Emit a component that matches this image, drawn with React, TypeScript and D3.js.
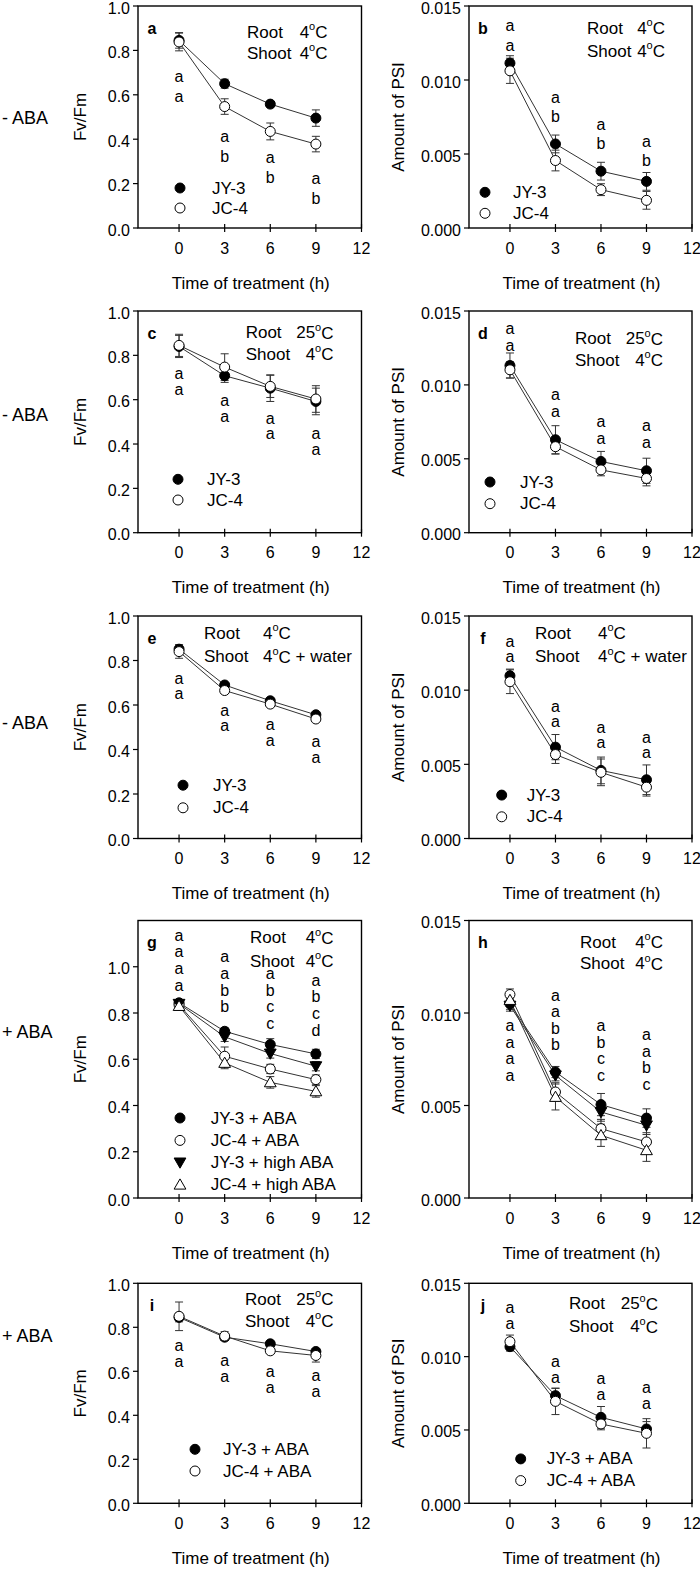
import React from 'react';
import * as d3 from 'd3';

const FONT = '"Liberation Sans", Arial, Helvetica, sans-serif';

// ---------- shared axes ----------
const times = [0, 3, 6, 9];
const xTickValues = [0, 3, 6, 9, 12];
const fvTickValues = [0, 0.2, 0.4, 0.6, 0.8, 1.0];
const psiTickValues = [0, 0.005, 0.01, 0.015];
const rowTreatments = ['- ABA', '- ABA', '- ABA', '+ ABA', '+ ABA'];

// ---------- panel a ----------
const aJY3 = [0.845, 0.65, 0.558, 0.495];
const aJY3Err = [0.035, 0.02, 0.012, 0.037];
const aJC4 = [0.838, 0.547, 0.435, 0.378];
const aJC4Err = [0.04, 0.035, 0.038, 0.035];
const aLetters = [['a', 'a'], ['a', 'b'], ['a', 'b'], ['a', 'b']];
const aLetterTop = [0.676, 0.406, 0.312, 0.217];

// ---------- panel b ----------
const bJY3 = [0.01114, 0.00568, 0.00384, 0.00315];
const bJY3Err = [0.0005, 0.0006, 0.0006, 0.0006];
const bJC4 = [0.01062, 0.00456, 0.00259, 0.00187];
const bJC4Err = [0.00085, 0.0007, 0.0004, 0.0006];
const bLetters = [['a', 'a'], ['a', 'b'], ['a', 'b'], ['a', 'b']];
const bLetterTop = [0.01359, 0.00874, 0.00692, 0.00577];

// ---------- panel c ----------
const cJY3 = [0.84, 0.708, 0.652, 0.592];
const cJY3Err = [0.05, 0.03, 0.06, 0.06];
const cJC4 = [0.845, 0.747, 0.66, 0.603];
const cJC4Err = [0.05, 0.06, 0.05, 0.06];
const cLetters = [['a', 'a'], ['a', 'a'], ['a', 'a'], ['a', 'a']];
const cLetterTop = [0.711, 0.59, 0.51, 0.44];

// ---------- panel d ----------
const dJY3 = [0.01131, 0.00629, 0.00482, 0.00419];
const dJY3Err = [0.00085, 0.00095, 0.00068, 0.00085];
const dJC4 = [0.01102, 0.00582, 0.00425, 0.00367];
const dJC4Err = [0.00055, 0.0005, 0.0004, 0.0005];
const dLetters = [['a', 'a'], ['a', 'a'], ['a', 'a'], ['a', 'a']];
const dLetterTop = [0.01374, 0.00928, 0.00747, 0.00715];

// ---------- panel e ----------
const eJY3 = [0.851, 0.69, 0.619, 0.556];
const eJY3Err = [0.02, 0.01, 0.01, 0.01];
const eJC4 = [0.84, 0.665, 0.604, 0.537];
const eJC4Err = [0.03, 0.01, 0.01, 0.01];
const eLetters = [['a', 'a'], ['a', 'a'], ['a', 'a'], ['a', 'a']];
const eLetterTop = [0.716, 0.571, 0.507, 0.429];

// ---------- panel f ----------
const fJY3 = [0.01097, 0.00616, 0.00459, 0.00396];
const fJY3Err = [0.00045, 0.00085, 0.0009, 0.001];
const fJC4 = [0.01057, 0.00566, 0.00446, 0.00346];
const fJC4Err = [0.0008, 0.0006, 0.0009, 0.0006];
const fLetters = [['a', 'a'], ['a', 'a'], ['a', 'a'], ['a', 'a']];
const fLetterTop = [0.0132, 0.00882, 0.00743, 0.00675];

// ---------- panel g ----------
const gJY3ABA = [0.844, 0.721, 0.664, 0.623];
const gJY3ABAErr = [0.01, 0.015, 0.025, 0.02];
const gJC4ABA = [0.835, 0.613, 0.558, 0.512];
const gJC4ABAErr = [0.01, 0.04, 0.02, 0.02];
const gJY3High = [0.84, 0.697, 0.625, 0.57];
const gJY3HighErr = [0.01, 0.02, 0.02, 0.02];
const gJC4High = [0.83, 0.584, 0.5, 0.461];
const gJC4HighErr = [0.01, 0.025, 0.025, 0.025];
const gLetters = [['a', 'a', 'a', 'a'], ['a', 'a', 'b', 'b'], ['a', 'b', 'c', 'c'], ['a', 'b', 'c', 'd']];
const gLetterTop = [1.132, 1.038, 0.966, 0.937];

// ---------- panel h ----------
const hJY3ABA = [0.0105, 0.00681, 0.00505, 0.00432];
const hJY3ABAErr = [0.0003, 0.0003, 0.0006, 0.0005];
const hJC4ABA = [0.011, 0.00573, 0.00375, 0.00303];
const hJC4ABAErr = [0.0003, 0.0005, 0.0005, 0.0005];
const hJY3High = [0.0104, 0.00663, 0.00465, 0.00393];
const hJY3HighErr = [0.0003, 0.0003, 0.0005, 0.0005];
const hJC4High = [0.0107, 0.00546, 0.00339, 0.00258];
const hJC4HighErr = [0.0003, 0.0007, 0.0006, 0.0006];
const hLetters = [['a', 'a', 'a', 'a'], ['a', 'a', 'b', 'b'], ['a', 'b', 'c', 'c'], ['a', 'a', 'b', 'c']];
const hLetterTop = [0.00924, 0.0109, 0.00924, 0.00877];

// ---------- panel i ----------
const iJY3 = [0.845, 0.755, 0.725, 0.69];
const iJY3Err = [0.02, 0.015, 0.01, 0.01];
const iJC4 = [0.85, 0.76, 0.693, 0.672];
const iJC4Err = [0.065, 0.02, 0.01, 0.03];
const iLetters = [['a', 'a'], ['a', 'a'], ['a', 'a'], ['a', 'a']];
const iLetterTop = [0.712, 0.644, 0.594, 0.576];

// ---------- panel j ----------
const jJY3 = [0.01068, 0.00734, 0.00586, 0.00507];
const jJY3Err = [0.0003, 0.0005, 0.00074, 0.0005];
const jJC4 = [0.01102, 0.00695, 0.00541, 0.00477];
const jJC4Err = [0.00045, 0.0009, 0.0004, 0.001];
const jLetters = [['a', 'a'], ['a', 'a'], ['a', 'a'], ['a', 'a']];
const jLetterTop = [0.0133, 0.00961, 0.00843, 0.00784];

// ---------- types ----------
type MarkerKind = 'filled' | 'open' | 'down' | 'up';
interface SeriesDef { label: string; values: number[]; errors: number[]; marker: MarkerKind; }
interface Ann { root: string; shoot: string; labelX: number; valueX: number; anchor: 'start' | 'end'; y1: number; y2: number; }
interface Legend { markerX: number; textX: number; ys: number[]; }
interface PanelDef {
  id: string; col: number; row: number; kind: 'fv' | 'psi'; yMax: number;
  series: SeriesDef[]; letters: string[][]; letterTop: number[]; letterGap: number;
  ann: Ann; legend: Legend | null;
}

const two = (jy: number[], jyE: number[], jc: number[], jcE: number[], suffix = ''): SeriesDef[] => [
  { label: 'JY-3' + suffix, values: jy, errors: jyE, marker: 'filled' },
  { label: 'JC-4' + suffix, values: jc, errors: jcE, marker: 'open' },
];

const panels: PanelDef[] = [
  { id: 'a', col: 0, row: 0, kind: 'fv', yMax: 1.0, series: two(aJY3, aJY3Err, aJC4, aJC4Err),
    letters: aLetters, letterTop: aLetterTop, letterGap: 20,
    ann: { root: '4', shoot: '4', labelX: 109, valueX: 189.5, anchor: 'end', y1: 26, y2: 47 },
    legend: { markerX: 42, textX: 74, ys: [-40, -20] } },
  { id: 'b', col: 1, row: 0, kind: 'psi', yMax: 0.015, series: two(bJY3, bJY3Err, bJC4, bJC4Err),
    letters: bLetters, letterTop: bLetterTop, letterGap: 19.5,
    ann: { root: '4', shoot: '4', labelX: 118, valueX: 196, anchor: 'end', y1: 22, y2: 45 },
    legend: { markerX: 16, textX: 44, ys: [-35.7, -14.7] } },
  { id: 'c', col: 0, row: 1, kind: 'fv', yMax: 1.0, series: two(cJY3, cJY3Err, cJC4, cJC4Err),
    letters: cLetters, letterTop: cLetterTop, letterGap: 15.5,
    ann: { root: '25', shoot: '4', labelX: 107.7, valueX: 195.5, anchor: 'end', y1: 21.6, y2: 43 },
    legend: { markerX: 40, textX: 69, ys: [-53.4, -32.7] } },
  { id: 'd', col: 1, row: 1, kind: 'psi', yMax: 0.015, series: two(dJY3, dJY3Err, dJC4, dJC4Err),
    letters: dLetters, letterTop: dLetterTop, letterGap: 17,
    ann: { root: '25', shoot: '4', labelX: 106, valueX: 194, anchor: 'end', y1: 27.6, y2: 49.3 },
    legend: { markerX: 21, textX: 51, ys: [-50.7, -29] } },
  { id: 'e', col: 0, row: 2, kind: 'fv', yMax: 1.0, series: two(eJY3, eJY3Err, eJC4, eJC4Err),
    letters: eLetters, letterTop: eLetterTop, letterGap: 15.7,
    ann: { root: '4', shoot: '4|water', labelX: 66, valueX: 125, anchor: 'start', y1: 17, y2: 40.7 },
    legend: { markerX: 45, textX: 75, ys: [-53.3, -30.7] } },
  { id: 'f', col: 1, row: 2, kind: 'psi', yMax: 0.015, series: two(fJY3, fJY3Err, fJC4, fJC4Err),
    letters: fLetters, letterTop: fLetterTop, letterGap: 15,
    ann: { root: '4', shoot: '4|water', labelX: 66, valueX: 129, anchor: 'start', y1: 17, y2: 40.7 },
    legend: { markerX: 32.7, textX: 57.7, ys: [-43.4, -21.7] } },
  { id: 'g', col: 0, row: 3, kind: 'fv', yMax: 1.2,
    series: [
      { label: 'JY-3 + ABA', values: gJY3ABA, errors: gJY3ABAErr, marker: 'filled' },
      { label: 'JC-4 + ABA', values: gJC4ABA, errors: gJC4ABAErr, marker: 'open' },
      { label: 'JY-3 + high ABA', values: gJY3High, errors: gJY3HighErr, marker: 'down' },
      { label: 'JC-4 + high ABA', values: gJC4High, errors: gJC4HighErr, marker: 'up' },
    ],
    letters: gLetters, letterTop: gLetterTop, letterGap: 16.7,
    ann: { root: '4', shoot: '4', labelX: 112, valueX: 195.5, anchor: 'end', y1: 17.3, y2: 40.7 },
    legend: { markerX: 42, textX: 72.7, ys: [-80, -57.6, -35.6, -13.3] } },
  { id: 'h', col: 1, row: 3, kind: 'psi', yMax: 0.015,
    series: [
      { label: 'JY-3 + ABA', values: hJY3ABA, errors: hJY3ABAErr, marker: 'filled' },
      { label: 'JC-4 + ABA', values: hJC4ABA, errors: hJC4ABAErr, marker: 'open' },
      { label: 'JY-3 + high ABA', values: hJY3High, errors: hJY3HighErr, marker: 'down' },
      { label: 'JC-4 + high ABA', values: hJC4High, errors: hJC4HighErr, marker: 'up' },
    ],
    letters: hLetters, letterTop: hLetterTop, letterGap: 16.5,
    ann: { root: '4', shoot: '4', labelX: 111, valueX: 194, anchor: 'end', y1: 21.5, y2: 43 },
    legend: null },
  { id: 'i', col: 0, row: 4, kind: 'fv', yMax: 1.0, series: two(iJY3, iJY3Err, iJC4, iJC4Err, ' + ABA'),
    letters: iLetters, letterTop: iLetterTop, letterGap: 16,
    ann: { root: '25', shoot: '4', labelX: 107, valueX: 195.5, anchor: 'end', y1: 16, y2: 37.7 },
    legend: { markerX: 57, textX: 85, ys: [-54, -32.3] } },
  { id: 'j', col: 1, row: 4, kind: 'psi', yMax: 0.015, series: two(jJY3, jJY3Err, jJC4, jJC4Err, ' + ABA'),
    letters: jLetters, letterTop: jLetterTop, letterGap: 16,
    ann: { root: '25', shoot: '4', labelX: 100, valueX: 189, anchor: 'end', y1: 20.6, y2: 43.3 },
    legend: { markerX: 51.7, textX: 77.7, ys: [-44.4, -22.7] } },
];

// ---------- layout ----------
const colX = [[138, 361.5], [469, 692]];
const rowY = [[6, 228], [311, 532.7], [616, 838.5], [920.5, 1198], [1283.3, 1503.3]];
const rowLabelY = [112, 104, 107, 111, 53];

const LINE = '#333';
const symTri = d3.symbol().type(d3.symbolTriangle).size(60);

function Marker({ kind, x, y }: { kind: MarkerKind; x: number; y: number }) {
  if (kind === 'filled' || kind === 'open') {
    return <circle cx={x} cy={y} r={5} fill={kind === 'filled' ? '#000' : '#fff'} stroke="#000" strokeWidth={1} />;
  }
  const rot = kind === 'down' ? 180 : 0;
  return <path d={symTri() as string} transform={`translate(${x},${y + (kind === 'down' ? -1 : 1)}) rotate(${rot})`}
    fill={kind === 'down' ? '#000' : '#fff'} stroke="#000" strokeWidth={1} />;
}

function Temp({ x, y, anchor, v }: { x: number; y: number; anchor: 'start' | 'end'; v: string }) {
  const [num, extra] = v.split('|');
  return (
    <text x={x} y={y} textAnchor={anchor} fontSize={17} fontFamily={FONT} dominantBaseline="central">
      {num}
      <tspan dy={-6} fontSize={11}>o</tspan>
      <tspan dy={6}>C</tspan>
      {extra ? ` + ${extra}` : ''}
    </text>
  );
}

function Panel({ p }: { p: PanelDef }) {
  const [x0, x1] = colX[p.col];
  const [y0, y1] = rowY[p.row];
  const x = d3.scaleLinear().domain([-2.7, 12]).range([x0, x1]);
  const y = d3.scaleLinear().domain([0, p.yMax]).range([y1, y0]);
  const ticks = p.kind === 'fv' ? fvTickValues : psiTickValues;
  const fmt = p.kind === 'fv' ? d3.format('.1f') : d3.format('.3f');
  const line = d3.line<number>().x((_, i) => x(times[i])).y((v) => y(v));
  const fs = 16;
  return (
    <g>
      {/* y ticks */}
      {ticks.map((t) => (
        <g key={'yt' + t}>
          <line x1={x0 - 5} x2={x0} y1={y(t)} y2={y(t)} stroke="#000" strokeWidth={1.2} />
          <text x={x0 - 8} y={y(t) + 2} textAnchor="end" dominantBaseline="central" fontSize={16} fontFamily={FONT}>{fmt(t)}</text>
        </g>
      ))}
      {/* x ticks */}
      {xTickValues.map((t) => (
        <g key={'xt' + t}>
          <line x1={x(t)} x2={x(t)} y1={y1 - 4} y2={y1 + 4} stroke="#000" strokeWidth={1.2} />
          <text x={x(t)} y={y1 + 20} textAnchor="middle" dominantBaseline="central" fontSize={16} fontFamily={FONT}>{t}</text>
        </g>
      ))}
      <text x={(x0 + x1) / 2 + 1} y={y1 + 55} textAnchor="middle" dominantBaseline="central" fontSize={17} fontFamily={FONT}>Time of treatment (h)</text>
      <text transform={`translate(${p.kind === 'fv' ? x0 - 58 : x0 - 71},${(y0 + y1) / 2}) rotate(-90)`} textAnchor="middle"
        dominantBaseline="central" fontSize={17} fontFamily={FONT}>{p.kind === 'fv' ? 'Fv/Fm' : 'Amount of PSI'}</text>
      {/* series lines + error bars */}
      {p.series.map((s, si) => (
        <g key={'s' + si}>
          <path d={line(s.values) as string} fill="none" stroke={LINE} strokeWidth={1} />
          {s.values.map((v, i) => {
            const cx = x(times[i]);
            const ya = y(v + s.errors[i]);
            const yb = y(v - s.errors[i]);
            return (
              <g key={i} stroke={LINE} strokeWidth={1}>
                <line x1={cx} x2={cx} y1={ya} y2={yb} />
                <line x1={cx - 4} x2={cx + 4} y1={ya} y2={ya} />
                <line x1={cx - 4} x2={cx + 4} y1={yb} y2={yb} />
              </g>
            );
          })}
        </g>
      ))}
      {p.series.map((s, si) => (
        <g key={'m' + si}>
          {s.values.map((v, i) => <Marker key={i} kind={s.marker} x={x(times[i])} y={y(v)} />)}
        </g>
      ))}
      {/* significance letters */}
      {p.letters.map((col, i) => col.map((l, k) => (
        <text key={`l${i}-${k}`} x={x(times[i])} y={y(p.letterTop[i]) + k * p.letterGap + 0.27 * fs}
          textAnchor="middle" fontSize={fs} fontFamily={FONT}>{l}</text>
      )))}
      {/* panel letter */}
      <text x={x0 + 14} y={y0 + 22} textAnchor="middle" dominantBaseline="central" fontSize={16} fontWeight="bold" fontFamily={FONT}>{p.id}</text>
      {/* annotation */}
      <text x={x0 + p.ann.labelX} y={y0 + p.ann.y1} dominantBaseline="central" fontSize={17} fontFamily={FONT}>Root</text>
      <text x={x0 + p.ann.labelX} y={y0 + p.ann.y2} dominantBaseline="central" fontSize={17} fontFamily={FONT}>Shoot</text>
      <Temp x={x0 + p.ann.valueX} y={y0 + p.ann.y1} anchor={p.ann.anchor} v={p.ann.root} />
      <Temp x={x0 + p.ann.valueX} y={y0 + p.ann.y2} anchor={p.ann.anchor} v={p.ann.shoot} />
      {/* legend */}
      {p.legend && p.series.map((s, si) => (
        <g key={'lg' + si}>
          <Marker kind={s.marker} x={x0 + p.legend!.markerX} y={y1 + p.legend!.ys[si]} />
          <text x={x0 + p.legend!.textX} y={y1 + p.legend!.ys[si]} dominantBaseline="central" fontSize={17} fontFamily={FONT}>{s.label}</text>
        </g>
      ))}
      {/* frame */}
      <rect x={x0} y={y0} width={x1 - x0} height={y1 - y0} fill="none" stroke="#000" strokeWidth={1.4} />
    </g>
  );
}

export default function App() {
  return (
    <svg width={700} height={1569} style={{ position: 'absolute', left: 0, top: 0, background: '#fff' }}>
      <rect x={0} y={0} width={700} height={1569} fill="#fff" />
      {rowTreatments.map((t, r) => (
        <text key={'rt' + r} x={2} y={rowY[r][0] + rowLabelY[r]} dominantBaseline="central" fontSize={18} fontFamily={FONT}>{t}</text>
      ))}
      {panels.map((p) => <Panel key={p.id} p={p} />)}
    </svg>
  );
}
